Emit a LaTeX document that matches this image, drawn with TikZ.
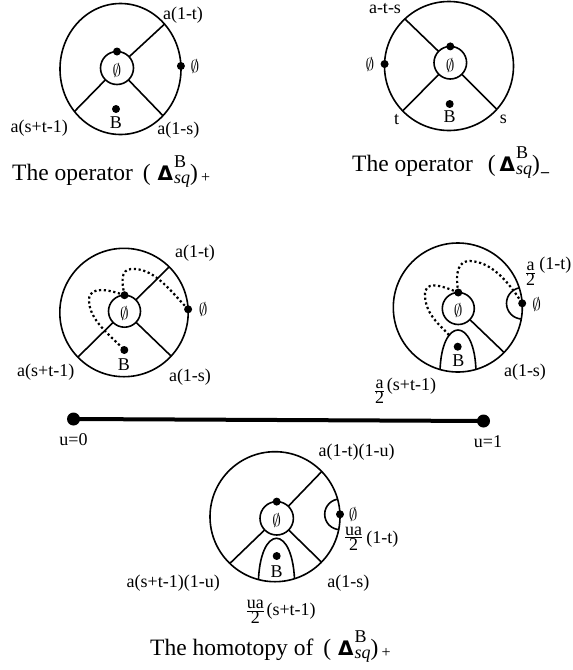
\documentclass[tikz,border=0pt]{standalone}
\usepackage{fontspec}
\setmainfont{Liberation Serif}
\newfontfamily\dsans{DejaVu Sans}
\usetikzlibrary{calc}
\newcommand{\fr}[2]{$\frac{\hbox{#1}}{\hbox{#2}}$}
\newcommand{\scr}{\fontsize{18}{18}\selectfont}
\newcommand{\opB}[3]{(\hspace{#1}{\dsans\bfseries\fontsize{20}{20}\selectfont Δ}\kern1pt\rlap{\raisebox{13pt}{\scr B}}\raisebox{-3pt}{\scr\itshape sq})\hspace{#2}#3}
\newcommand{\subplus}{\raisebox{-2pt}{\fontsize{16}{16}\selectfont +}}
\newcommand{\subminus}{{\fontsize{16}{16}\selectfont\bfseries\_}}
\begin{document}
\begin{tikzpicture}[x=1pt,y=-1pt,
  ln/.style={line width=1.6pt},
  blob/.style={circle,fill=black,inner sep=0pt,minimum size=8pt},
  bigblob/.style={circle,fill=black,inner sep=0pt,minimum size=13pt},
  lbl/.style={font=\fontsize{18}{20}\selectfont,inner sep=0pt},
  captxt/.style={font=\fontsize{23.5}{26}\selectfont,inner sep=0pt,anchor=base west},
  dotline/.style={line width=2.2pt,dash pattern=on 2.2pt off 2.6pt}
]
\useasboundingbox (0,0) rectangle (573,670);

% ---------------- D1
\coordinate (o1) at (120.5,69);
\coordinate (i1) at (117,68);
\begin{scope}
 \clip (o1) ellipse [x radius=60.5pt,y radius=65.5pt];
 \draw[ln] (i1) -- ($(i1)!3!(161.7,26.7)$);
 \draw[ln] (i1) -- ($(i1)!3!(71,115)$);
 \draw[ln] (i1) -- ($(i1)!3!(162.3,115)$);
\end{scope}
\draw[ln,fill=white] (i1) circle[radius=16.5pt];
\draw[ln] (o1) ellipse [x radius=60.5pt,y radius=65.5pt];
\node[blob] (d1a) at (117,51.5) {};
\node[blob] (d1b) at (180.9,66) {};
\node[blob] (d1c) at (116,109) {};
\node[lbl] (e1a) at (117,70) {$\emptyset$};
\node[lbl] (e1b) at (195,66.7) {$\emptyset$};
\node[lbl] (b1) at (116,123) {B};
\node[lbl] (l1a) at (183,15) {a(1-t)};
\node[lbl] (l1b) at (39.2,128.3) {a(s+t-1)};
\node[lbl] (l1c) at (178.3,130) {a(1-s)};
\node[captxt] (c1) at (12,180) {The operator\hspace{10pt}\opB{7pt}{3pt}{\subplus}};

% ---------------- D2
\coordinate (o2) at (449,66);
\coordinate (i2) at (450.3,62.7);
\begin{scope}
 \clip (o2) circle[radius=64.5pt];
 \draw[ln] (i2) -- ($(i2)!3!(405,19)$);
 \draw[ln] (i2) -- ($(i2)!3!(404.3,109.3)$);
 \draw[ln] (i2) -- ($(i2)!3!(495.7,108.3)$);
\end{scope}
\draw[ln,fill=white] (i2) circle[radius=16.3pt];
\draw[ln] (o2) circle[radius=64.5pt];
\node[blob] (d2a) at (450.3,46.4) {};
\node[blob] (d2b) at (384.6,64) {};
\node[blob] (d2c) at (449.7,104) {};
\node[lbl] (e2a) at (450.3,65) {$\emptyset$};
\node[lbl] (e2b) at (370,64) {$\emptyset$};
\node[lbl] (b2) at (449.7,117) {B};
\node[lbl] (l2a) at (385,8.3) {a-t-s};
\node[lbl] (l2b) at (396.7,120) {t};
\node[lbl] (l2c) at (503.3,119) {s};
\node[captxt] (c2) at (352,171.5) {The operator\hspace{15pt}\opB{4pt}{1pt}{\subminus}};

% ---------------- D3
\coordinate (o3) at (124,312.5);
\coordinate (i3) at (124.5,311.2);
\begin{scope}
 \clip (o3) circle[radius=64.2pt];
 \draw[ln] (i3) -- ($(i3)!3!(168.3,267.7)$);
 \draw[ln] (i3) -- ($(i3)!3!(78.3,356.7)$);
 \draw[ln] (i3) -- ($(i3)!3!(170.7,355.7)$);
\end{scope}
\draw[ln,fill=white] (i3) circle[radius=16pt];
\draw[ln] (o3) circle[radius=64.2pt];
\draw[dotline] (124.5,295.2) .. controls (120,275) and (123,268) .. (135,269) .. controls (155,270) and (170,290) .. (188.1,309.3);
\draw[dotline] (124.5,295.2) .. controls (110,290) and (89,285) .. (89,300) .. controls (89,320) and (110,335) .. (124.3,350);
\node[blob] (d3a) at (124.5,295.2) {};
\node[blob] (d3b) at (188.1,309.3) {};
\node[blob] (d3c) at (124.3,350) {};
\node[lbl] (e3a) at (124.5,313) {$\emptyset$};
\node[lbl] (e3b) at (203.3,309.3) {$\emptyset$};
\node[lbl] (b3) at (124,365) {B};
\node[lbl] (l3a) at (195,253.3) {a(1-t)};
\node[lbl] (l3b) at (45.8,371.7) {a(s+t-1)};
\node[lbl] (l3c) at (190,376.7) {a(1-s)};

% ---------------- D4
\coordinate (o4) at (457.8,307.5);
\coordinate (i4) at (458.3,308.5);
\begin{scope}
 \clip (o4) circle[radius=64.5pt];
 \draw[ln] (i4) -- ($(i4)!3!(503.3,351.7)$);
 \draw[ln] (522.2,303.3) circle[radius=15.7pt];
 \draw[ln] (440,372) .. controls (441,316) and (475,316) .. (476,372);
\end{scope}
\draw[ln,fill=white] (i4) circle[radius=16pt];
\draw[ln] (o4) circle[radius=64.5pt];
\draw[dotline] (458.3,292.5) .. controls (455,272) and (458,261) .. (470,261) .. controls (490,262) and (506,278) .. (522.2,303.3);
\draw[dotline] (458.3,292.5) .. controls (440,285) and (424,280) .. (425,296) .. controls (426,315) and (440,325) .. (449,335);
\node[blob] (d4a) at (458.3,292.5) {};
\node[blob] (d4b) at (522.2,303.3) {};
\node[blob] (d4c) at (457.7,346.7) {};
\node[lbl] (e4a) at (458.3,310) {$\emptyset$};
\node[lbl] (e4b) at (536.7,304) {$\emptyset$};
\node[lbl] (b4) at (458.3,360.7) {B};
\node[lbl,anchor=base west] (l4a) at (524.8,277.2) {\fr{a}{2}\hspace{3pt}\raisebox{8pt}{(1-t)}};
\node[lbl] (l4c) at (525,371.7) {a(1-s)};
\node[lbl,anchor=base west] (l4b) at (373.8,395.5) {\fr{a}{2}\hspace{1.5pt}\raisebox{5pt}{(s+t-1)}};

% ---------------- u line
\node[bigblob] (u0) at (73.5,419) {};
\node[bigblob] (u1) at (483.5,421) {};
\draw[line width=4pt] (u0.center) -- (u1.center);
\node[lbl] (lu0) at (73.5,439.5) {u=0};
\node[lbl] (lu1) at (488,442) {u=1};

% ---------------- D5
\coordinate (o5) at (275,516.7);
\coordinate (i5) at (276.7,518.3);
\begin{scope}
 \clip (o5) circle[radius=65pt];
 \draw[ln] (i5) -- ($(i5)!3!(320,473.3)$);
 \draw[ln] (i5) -- ($(i5)!3!(230,563.3)$);
 \draw[ln] (i5) -- ($(i5)!3!(322.7,563.3)$);
 \draw[ln,fill=white] (258.3,585) .. controls (259,522.7) and (294,522.7) .. (294.7,585);
 \draw[ln] (340,514.3) circle[radius=15.3pt];
\end{scope}
\draw[ln,fill=white] (i5) circle[radius=16.7pt];
\draw[ln] (o5) circle[radius=65pt];
\node[blob] (d5a) at (276.7,501.6) {};
\node[blob] (d5b) at (340,514.3) {};
\node[blob] (d5c) at (276.7,556) {};
\node[lbl] (e5a) at (276.7,520) {$\emptyset$};
\node[lbl] (e5b) at (353.3,514) {$\emptyset$};
\node[lbl] (b5) at (276.7,571.7) {B};
\node[lbl] (l5a) at (356.7,451.7) {a(1-t)(1-u)};
\node[lbl,anchor=base west] (l5b) at (343.8,541.8) {\fr{ua}{2}\hspace{3pt}\raisebox{-2pt}{(1-t)}};
\node[lbl] (l5c) at (173.3,583.3) {a(s+t-1)(1-u)};
\node[lbl] (l5d) at (348.3,583.3) {a(1-s)};
\node[lbl,anchor=base west] (l5e) at (245.5,615.2) {\fr{ua}{2}\hspace{1.5pt}(s+t-1)};
\node[captxt] (c3) at (150,655) {The homotopy of\hspace{10pt}\opB{7pt}{3pt}{\subplus}};
\end{tikzpicture}
\end{document}
